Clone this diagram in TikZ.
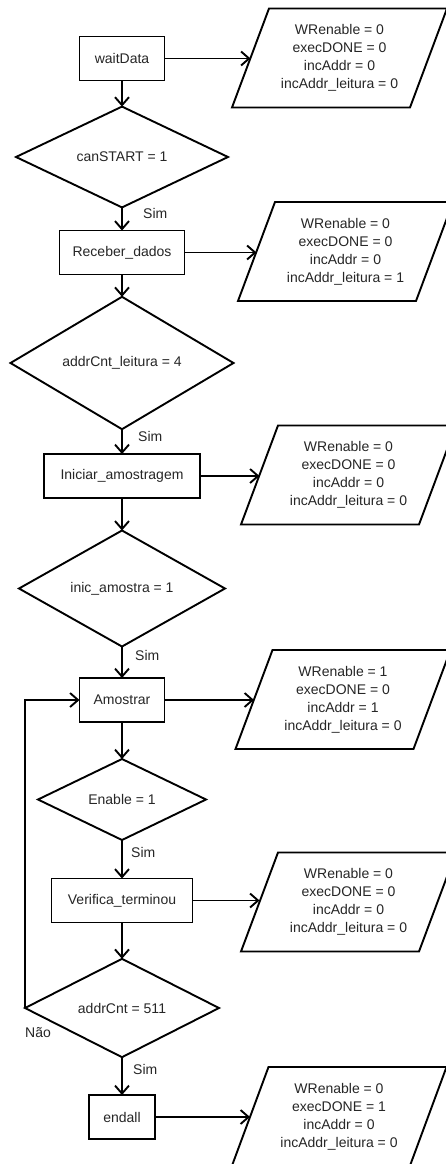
\documentclass[tikz,border=0pt]{standalone}
\usepackage{fontspec}
\setmainfont{Liberation Sans}
\usetikzlibrary{shapes.geometric,arrows.meta}
\definecolor{txt}{HTML}{262626}
\begin{document}
\begin{tikzpicture}[x=1pt,y=-1pt,
  every node/.style={font=\fontsize{14}{18}\selectfont, text=txt},
  stbox/.style={draw, line width=1.9pt, rectangle, minimum height=44pt, inner sep=0pt, outer sep=0pt},
  cond/.style={draw, line width=1.9pt, diamond, inner sep=0pt, outer sep=0pt},
  outp/.style={rectangle, minimum width=178pt, minimum height=99pt, align=center, inner sep=0pt, outer sep=0pt},
  arr/.style={line width=1.9pt, -{Straight Barb[length=8pt,width=14pt,line width=1.9pt]}},
  lbl/.style={anchor=west, inner sep=0pt}
]
\useasboundingbox (0,0) rectangle (446,1164);
\fill[white] (0,0) rectangle (446,1164);

% state boxes
\node[stbox, minimum width=85pt]  (b1) at (122,58.5) {waitData};
\node[stbox, minimum width=125pt] (b2) at (122,252.5) {Receber\_dados};
\node[stbox, minimum width=156pt] (b3) at (122,476) {Iniciar\_amostragem};
\node[stbox, minimum width=85pt]  (b4) at (122,700) {Amostrar};
\node[stbox, minimum width=141pt] (b5) at (122,900.5) {Verifica\_terminou};
\node[stbox, minimum width=66pt]  (b6) at (122,1117) {endall};

% decisions
\node[cond, minimum width=212pt, minimum height=80pt]  (d1) at (122,157) {canSTART = 1};
\node[cond, minimum width=223pt, minimum height=110pt] (d2) at (122,363) {addrCnt\_leitura = 4};
\node[cond, minimum width=206pt, minimum height=103pt] (d3) at (122,588.5) {inic\_amostra = 1};
\node[cond, minimum width=168pt, minimum height=81pt]  (d4) at (122,799.5) {Enable = 1};
\node[cond, minimum width=194pt, minimum height=94pt]  (d5) at (122,1008) {addrCnt = 511};

% outputs
\node[outp] (p1) at (339.5,58) {WRenable = 0\\execDONE = 0\\incAddr = 0\\incAddr\_leitura = 0};
\node[outp] (p2) at (345.5,251.5) {WRenable = 0\\execDONE = 0\\incAddr = 0\\incAddr\_leitura = 1};
\node[outp] (p3) at (348.5,475) {WRenable = 0\\execDONE = 0\\incAddr = 0\\incAddr\_leitura = 0};
\node[outp] (p4) at (343,699.5) {WRenable = 1\\execDONE = 0\\incAddr = 1\\incAddr\_leitura = 0};
\node[outp] (p5) at (348.5,902) {WRenable = 0\\execDONE = 0\\incAddr = 0\\incAddr\_leitura = 0};
\node[outp, minimum height=100pt] (p6) at (339,1117) {WRenable = 0\\execDONE = 1\\incAddr = 0\\incAddr\_leitura = 0};
\foreach \p in {p1,p2,p3,p4,p5,p6}
  \draw[line width=1.9pt, line join=miter]
    ([xshift=18.5pt]\p.north west) -- ([xshift=18.5pt]\p.north east) --
    ([xshift=-18.5pt]\p.south east) -- ([xshift=-18.5pt]\p.south west) -- cycle;

% vertical flow
\draw[arr] (b1) -- (d1);
\draw[arr] (d1) -- (b2);
\draw[arr] (b2) -- (d2);
\draw[arr] (d2) -- (b3);
\draw[arr] (b3) -- (d3);
\draw[arr] (d3) -- (b4);
\draw[arr] (b4) -- (d4);
\draw[arr] (d4) -- (b5);
\draw[arr] (b5) -- (d5);
\draw[arr] (d5) -- (b6);

% outputs arrows
\foreach \b/\p in {b1/p1,b2/p2,b3/p3,b4/p4,b5/p5,b6/p6}
  \draw[arr] (\b.east) -- (\b.east -| \p.west);

% loop back
\draw[arr] (d5.west) |- (b4.west);

% labels
\node[lbl] (s1) at ([xshift=21pt,yshift=-6pt]d1.south) {Sim};
\node[lbl] (s2) at ([xshift=16pt,yshift=-7pt]d2.south) {Sim};
\node[lbl] (s3) at ([xshift=13pt,yshift=-9pt]d3.south) {Sim};
\node[lbl] (s4) at ([xshift=9pt,yshift=-12pt]d4.south) {Sim};
\node[lbl] (s5) at ([xshift=11pt,yshift=-12pt]d5.south) {Sim};
\node[lbl] (nao) at ([yshift=-25pt]d5.west) {Não};
\end{tikzpicture}
\end{document}
